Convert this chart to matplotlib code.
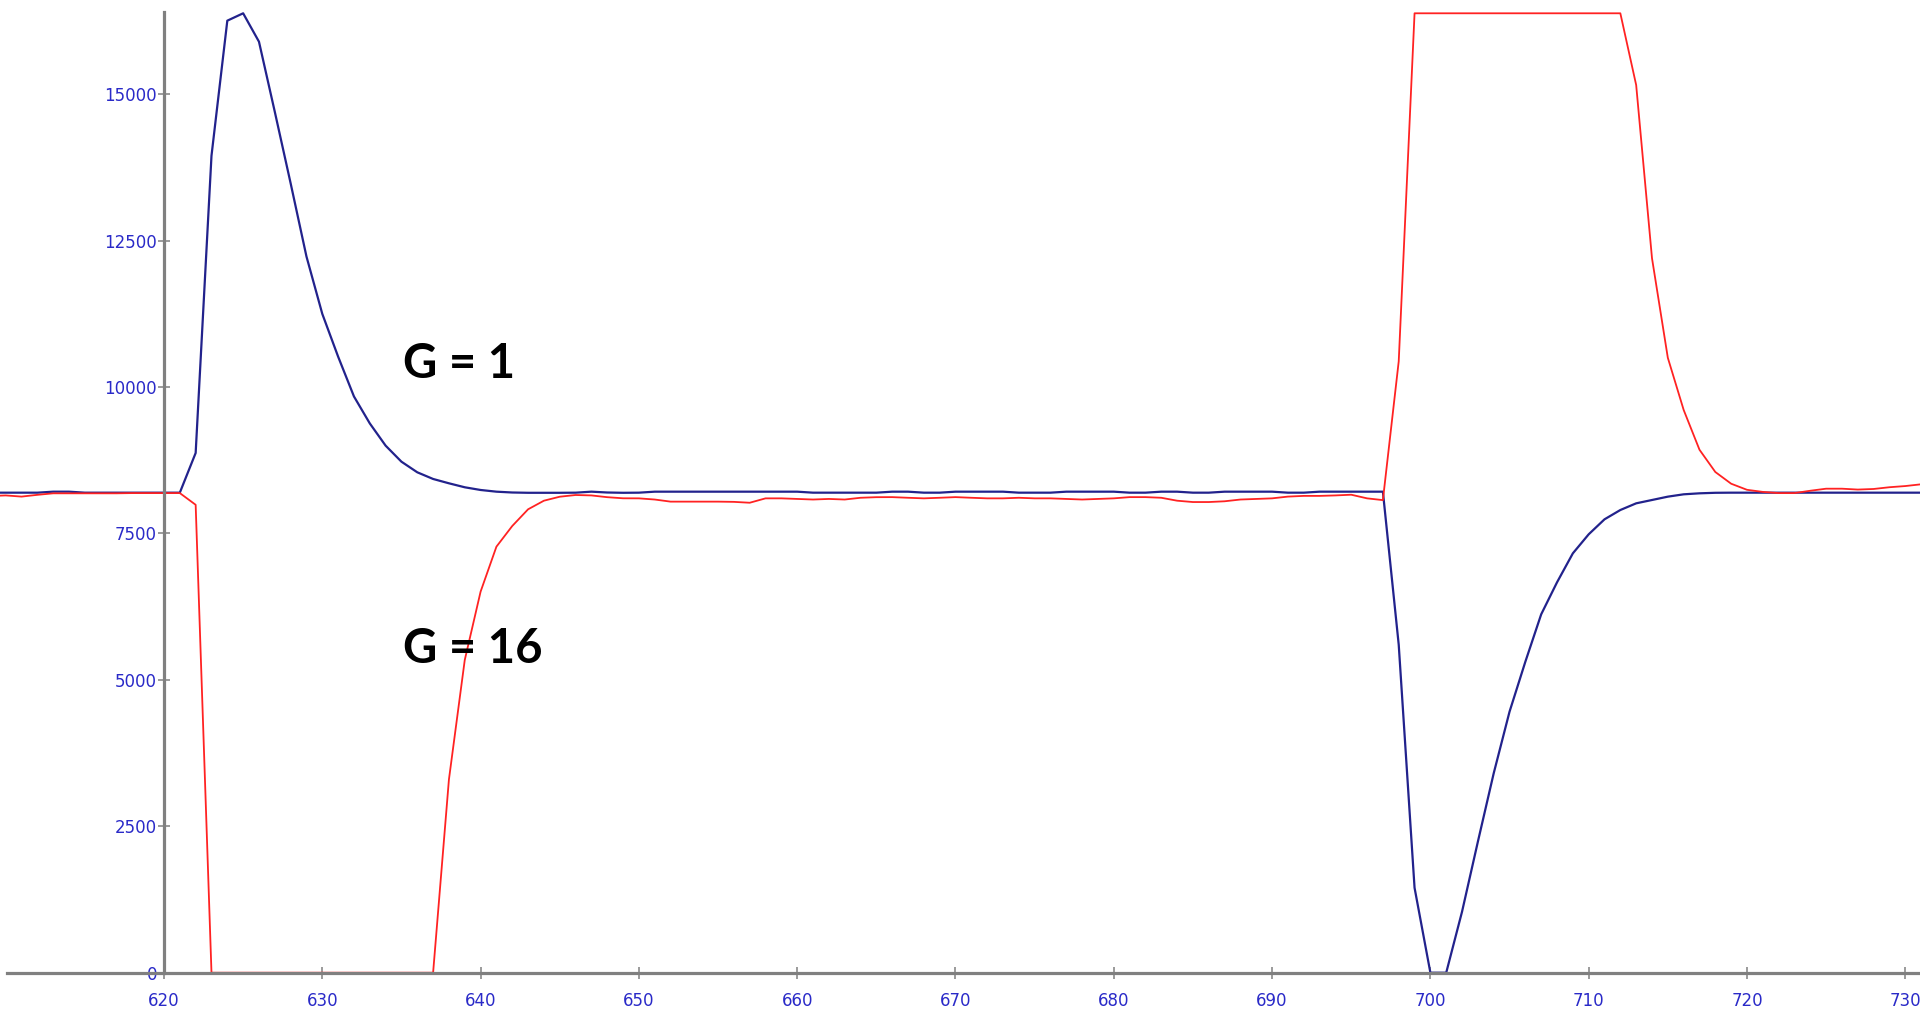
import numpy as np
import matplotlib
matplotlib.use('Agg')
from matplotlib import pyplot as plt

# sample index (x axis) and the two traces
x = np.arange(609, 732)

blue_g1 = [
    8197, 8197, 8197, 8197, 8214, 8214, 8197, 8197, 8197, 8197, 8197,  # 609-619
    8197, 8197, 8875, 13950, 16257, 16383, 15898, 14700, 13480, 12230,  # 620-629
    11250, 10520, 9840, 9380, 9000, 8726, 8545, 8431, 8357, 8289,  # 630-639
    8243, 8214, 8200, 8195, 8195, 8195, 8197, 8214, 8200, 8195,  # 640-649
    8197, 8214, 8214, 8214, 8214, 8214, 8214, 8214, 8214, 8214,  # 650-659
    8214, 8197, 8197, 8197, 8197, 8197, 8214, 8214, 8197, 8197,  # 660-669
    8214, 8214, 8214, 8214, 8197, 8197, 8197, 8214, 8214, 8214,  # 670-679
    8214, 8197, 8197, 8214, 8214, 8197, 8197, 8214, 8214, 8214,  # 680-689
    8214, 8197, 8197, 8214, 8214, 8214, 8214, 8214, 5600, 1450,  # 690-699
    0, 0, 1042, 2237, 3405, 4457, 5311, 6120, 6666, 7161,  # 700-709
    7486, 7742, 7901, 8015, 8072, 8129, 8169, 8186, 8195, 8197,  # 710-719
    8197, 8197, 8197, 8197, 8197, 8197, 8197, 8197, 8197, 8197,  # 720-729
    8197, 8197,  # 730-731
]

red_g16 = [
    8140, 8150, 8130, 8160, 8186, 8186, 8186, 8186, 8186, 8190, 8190,  # 609-619
    8190, 8190, 7990, 0, 0, 0, 0, 0, 0, 0,  # 620-629
    0, 0, 0, 0, 0, 0, 0, 0, 3300, 5340,  # 630-639
    6507, 7275, 7628, 7913, 8060, 8128, 8157, 8150, 8120, 8101,  # 640-649
    8100, 8080, 8044, 8044, 8044, 8044, 8040, 8025, 8100, 8100,  # 650-659
    8090, 8080, 8090, 8080, 8110, 8120, 8121, 8110, 8100, 8110,  # 660-669
    8121, 8110, 8100, 8100, 8110, 8100, 8100, 8090, 8080, 8090,  # 670-679
    8100, 8121, 8121, 8110, 8060, 8037, 8037, 8050, 8080, 8090,  # 680-689
    8100, 8130, 8142, 8142, 8150, 8162, 8100, 8070, 10440, 16383,  # 690-699
    16383, 16383, 16383, 16383, 16383, 16383, 16383, 16383, 16383, 16383,  # 700-709
    16383, 16383, 16383, 15158, 12200, 10500, 9610, 8930, 8550, 8350,  # 710-719
    8246, 8210, 8190, 8190, 8230, 8265, 8265, 8250, 8260, 8290,  # 720-729
    8310, 8340,  # 730-731
]

yticks = [0, 2500, 5000, 7500, 10000, 12500, 15000]
xticks = list(range(620, 740, 10))

fig = plt.figure(figsize=(19.2, 10.1), dpi=100)
ax = fig.add_axes([0, 0, 1, 1])

ax.plot(x, blue_g1, color='#22228c', lw=1.6)
ax.plot(x, red_g16, color='#ff2222', lw=1.3)

ax.set_xlim(609.64, 730.93)
ax.set_ylim(-637, 16610)

# axes drawn as crossing lines at x=620 and y=0
for side in ['top', 'right']:
    ax.spines[side].set_visible(False)
ax.spines['left'].set_position(('data', 620))
ax.spines['bottom'].set_position(('data', 0))
ax.spines['left'].set_bounds(0, 16410)
ax.spines['bottom'].set_bounds(610.1, 731)
for side in ['left', 'bottom']:
    ax.spines[side].set_color('#808080')
    ax.spines[side].set_linewidth(2.3)

ax.set_xticks(xticks)
ax.set_yticks(yticks)
ax.set_xticklabels([str(t) for t in xticks])
ax.set_yticklabels([str(t) for t in yticks])
ax.tick_params(axis='both', direction='inout', length=8, width=1.1,
               color='#808080', labelcolor='#2a2ac8', labelsize=12)
ax.tick_params(axis='y', pad=1)
ax.tick_params(axis='x', pad=10)

label_font = ['Lato', 'Open Sans', 'DejaVu Sans']
ax.text(635.1, 10150, 'G = 1', fontsize=34, fontweight='bold',
        family=label_font, color='black', ha='left', va='baseline')
ax.text(635.1, 5283, 'G = 16', fontsize=34, fontweight='bold',
        family=label_font, color='black', ha='left', va='baseline')

fig.savefig('out.png', dpi=100, facecolor='white')
